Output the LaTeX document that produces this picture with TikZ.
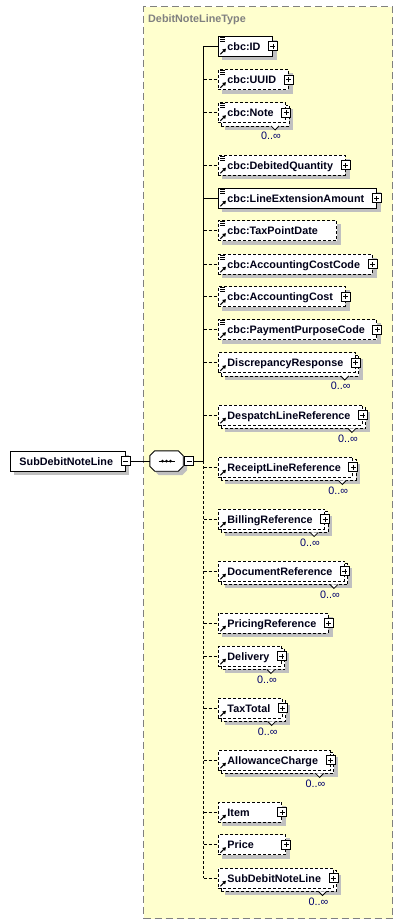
\documentclass[tikz,border=0pt]{standalone}
\usepackage{fontspec}
\setmainfont{Liberation Sans}
\usepackage{tikz}
\usetikzlibrary{arrows.meta, positioning}

\definecolor{typefill}{RGB}{255,255,206}
\definecolor{typeedge}{RGB}{128,128,128}
\definecolor{shadowgray}{RGB}{192,192,192}
\definecolor{nametext}{RGB}{0,0,24}
\definecolor{cardtext}{RGB}{0,0,110}
\newcommand\namefont{\fontsize{10.8}{12}\selectfont\bfseries}

\pgfdeclarelayer{frame}
\pgfdeclarelayer{shade}
\pgfsetlayers{frame,shade,main}

\begin{document}
\begin{tikzpicture}[x=1pt, y=-1pt,
    elembox/.style={fill=white, line width=0.9pt, anchor=west, minimum height=20pt, inner xsep=0pt, inner ysep=0pt, text height=8.8pt, text depth=0.2pt, font=\namefont, text=nametext, execute at begin node={\hspace*{9pt}}, rpad=12pt},
    rpad/.style={execute at end node={\hspace*{#1}}},
    req/.style={elembox, draw=black},
    opt/.style={elembox, draw=black, dash pattern=on 3pt off 2pt},
    refmark/.style={path picture={
        \draw[solid, line width=1.1pt, -{Triangle[length=3.2pt,width=3.8pt]}] ([xshift=2pt,yshift=1.8pt]path picture bounding box.south west) -- ++(5.5pt,5.5pt);}},
    cbcmark/.style={path picture={
        \draw[solid, line width=0.7pt] ([xshift=2pt,yshift=-1.2pt]path picture bounding box.north west) -- ++(5pt,0pt)
            ([xshift=2pt,yshift=-3.2pt]path picture bounding box.north west) -- ++(5pt,0pt)
            ([xshift=2pt,yshift=-5.2pt]path picture bounding box.north west) -- ++(5pt,0pt);
        \draw[solid, line width=1.1pt, -{Triangle[length=3.2pt,width=3.8pt]}] ([xshift=2pt,yshift=1.8pt]path picture bounding box.south west) -- ++(5.5pt,5.5pt);}},
    plusbox/.style={draw=black, fill=white, line width=0.8pt, minimum size=9pt, inner sep=0pt, path picture={
        \draw[line width=0.8pt] ([xshift=-2.5pt]path picture bounding box.center) -- ([xshift=2.5pt]path picture bounding box.center)
            ([yshift=-2.5pt]path picture bounding box.center) -- ([yshift=2.5pt]path picture bounding box.center);}},
    minusbox/.style={draw=black, fill=white, line width=0.8pt, minimum size=9pt, inner sep=0pt, path picture={
        \draw[line width=0.8pt] ([xshift=-2.5pt]path picture bounding box.center) -- ([xshift=2.5pt]path picture bounding box.center);}},
    seqbox/.style={minimum width=33pt, minimum height=20pt, inner sep=0pt},
    seqline/.style={draw=black, fill=white, line width=0.9pt},
    backcopy/.style={draw=black, fill=white, line width=0.9pt, dash pattern=on 3pt off 2pt},
    chev/.style={draw=black, fill=white, line width=0.8pt},
    card/.style={anchor=base east, inner sep=0pt, font=\fontsize{10.8}{12}\selectfont, text=cardtext},
    conn/.style={draw=black, line width=0.9pt},
    optconn/.style={conn, dash pattern=on 3pt off 2pt},
    typebox/.style={draw=typeedge, fill=typefill, line width=1.2pt, dash pattern=on 7pt off 4pt, anchor=north west, inner sep=0pt},
    typename/.style={anchor=base west, inner sep=0pt, font=\fontsize{10.8}{13}\selectfont\bfseries, text=typeedge}
]
\useasboundingbox (0,0) rectangle (403,924);

% complex type frame
\begin{pgfonlayer}{frame}
\fill[white] (0,0) rectangle (403,924);
\node[typebox, minimum width=249pt, minimum height=912pt] (type) at (143,6) {};
\end{pgfonlayer}
\node[typename] (typelabel) at (148,22) {DebitNoteLineType};

% root element and sequence
\node[req] (root) at (10,461) {SubDebitNoteLine};
\node[minusbox] (rootminus) at (root.east) {};
\node[seqbox] (seq) at (166.5,461) {};
\draw[seqline] ([xshift=5pt]seq.north west) -- ([xshift=-5pt]seq.north east) -- ([yshift=-5pt]seq.north east) -- ([yshift=5pt]seq.south east)
    -- ([xshift=-5pt]seq.south east) -- ([xshift=5pt]seq.south west) -- ([yshift=5pt]seq.south west) -- ([yshift=-5pt]seq.north west) -- cycle;
\draw[conn] ([xshift=-8pt]seq.center) -- ([xshift=8pt]seq.center);
\foreach \d in {-4,0,4}
    \fill ([xshift=\d pt]seq.center) circle (1.5pt);
\node[minusbox, right=1pt of seq] (seqminus) {};
\coordinate (trunk) at (203.5,461);
\draw[conn] (rootminus.east) -- (seq.west);
\draw[conn] (seqminus.east) -- (trunk);

% children
\node[req, cbcmark] (id) at (218,46) {cbc:ID};
\node[plusbox] (idplus) at (id.east) {};

\node[opt, cbcmark] (uuid) at (218,79.5) {cbc:UUID};
\node[plusbox] (uuidplus) at (uuid.east) {};

\node[opt, cbcmark] (note) at (218,112.5) {cbc:Note};
\node[plusbox] (noteplus) at (note.east) {};
\draw[chev] ([xshift=-15pt,yshift=-3pt]note.south east) -- ++(4,4) -- ++(4,-4);
\node[card] (notecard) at ([xshift=-5pt,yshift=-17pt]note.south east) {0..∞};

\node[opt, cbcmark] (debqty) at (218,165) {cbc:DebitedQuantity};
\node[plusbox] (debqtyplus) at (debqty.east) {};

\node[req, cbcmark] (lineamt) at (218,198) {cbc:LineExtensionAmount};
\node[plusbox] (lineamtplus) at (lineamt.east) {};

\node[opt, cbcmark, rpad=7pt] (taxdate) at (218,230.5) {cbc:TaxPointDate};

\node[opt, cbcmark] (acccode) at (218,264) {cbc:AccountingCostCode};
\node[plusbox] (acccodeplus) at (acccode.east) {};

\node[opt, cbcmark] (acccost) at (218,296.5) {cbc:AccountingCost};
\node[plusbox] (acccostplus) at (acccost.east) {};

\node[opt, cbcmark] (paycode) at (218,329.5) {cbc:PaymentPurposeCode};
\node[plusbox] (paycodeplus) at (paycode.east) {};

\node[opt, refmark] (discrep) at (218,362.5) {DiscrepancyResponse};
\node[plusbox] (discrepplus) at (discrep.east) {};
\draw[chev] ([xshift=-15pt,yshift=-3pt]discrep.south east) -- ++(4,4) -- ++(4,-4);
\node[card] (discrepcard) at ([xshift=-5pt,yshift=-17pt]discrep.south east) {0..∞};

\node[opt, refmark] (despref) at (218,415) {DespatchLineReference};
\node[plusbox] (desprefplus) at (despref.east) {};
\draw[chev] ([xshift=-15pt,yshift=-3pt]despref.south east) -- ++(4,4) -- ++(4,-4);
\node[card] (desprefcard) at ([xshift=-5pt,yshift=-17pt]despref.south east) {0..∞};

\node[opt, refmark] (rcptref) at (218,467) {ReceiptLineReference};
\node[plusbox] (rcptrefplus) at (rcptref.east) {};
\draw[chev] ([xshift=-15pt,yshift=-3pt]rcptref.south east) -- ++(4,4) -- ++(4,-4);
\node[card] (rcptrefcard) at ([xshift=-5pt,yshift=-17pt]rcptref.south east) {0..∞};

\node[opt, refmark] (billref) at (218,519) {BillingReference};
\node[plusbox] (billrefplus) at (billref.east) {};
\draw[chev] ([xshift=-15pt,yshift=-3pt]billref.south east) -- ++(4,4) -- ++(4,-4);
\node[card] (billrefcard) at ([xshift=-5pt,yshift=-17pt]billref.south east) {0..∞};

\node[opt, refmark] (docref) at (218,571) {DocumentReference};
\node[plusbox] (docrefplus) at (docref.east) {};
\draw[chev] ([xshift=-15pt,yshift=-3pt]docref.south east) -- ++(4,4) -- ++(4,-4);
\node[card] (docrefcard) at ([xshift=-5pt,yshift=-17pt]docref.south east) {0..∞};

\node[opt, refmark] (priceref) at (218,623) {PricingReference};
\node[plusbox] (pricerefplus) at (priceref.east) {};

\node[opt, refmark] (delivery) at (218,656) {Delivery};
\node[plusbox] (deliveryplus) at (delivery.east) {};
\draw[chev] ([xshift=-15pt,yshift=-3pt]delivery.south east) -- ++(4,4) -- ++(4,-4);
\node[card] (deliverycard) at ([xshift=-5pt,yshift=-17pt]delivery.south east) {0..∞};

\node[opt, refmark] (taxtotal) at (218,708) {TaxTotal};
\node[plusbox] (taxtotalplus) at (taxtotal.east) {};
\draw[chev] ([xshift=-15pt,yshift=-3pt]taxtotal.south east) -- ++(4,4) -- ++(4,-4);
\node[card] (taxtotalcard) at ([xshift=-5pt,yshift=-17pt]taxtotal.south east) {0..∞};

\node[opt, refmark] (allowance) at (218,760) {AllowanceCharge};
\node[plusbox] (allowanceplus) at (allowance.east) {};
\draw[chev] ([xshift=-15pt,yshift=-3pt]allowance.south east) -- ++(4,4) -- ++(4,-4);
\node[card] (allowancecard) at ([xshift=-5pt,yshift=-17pt]allowance.south east) {0..∞};

\node[opt, refmark, rpad=20pt] (item) at (218,812) {Item};
\node[plusbox] (itemplus) at (item.east) {};

\node[opt, refmark, rpad=20pt] (price) at (218,844.5) {Price};
\node[plusbox] (priceplus) at (price.east) {};

\node[opt, refmark] (subline) at (218,878) {SubDebitNoteLine};
\node[plusbox] (sublineplus) at (subline.east) {};
\draw[chev] ([xshift=-15pt,yshift=-3pt]subline.south east) -- ++(4,4) -- ++(4,-4);
\node[card] (sublinecard) at ([xshift=-5pt,yshift=-17pt]subline.south east) {0..∞};

% shadows and stacked copies
\begin{pgfonlayer}{shade}
\foreach \n in {root, id, uuid, debqty, lineamt, taxdate, acccode, acccost, paycode, priceref, item, price}
    \fill[shadowgray] ([shift={(4pt,-4pt)}]\n.south west) rectangle ([shift={(4pt,-4pt)}]\n.north east);
\foreach \n in {note, discrep, despref, rcptref, billref, docref, delivery, taxtotal, allowance, subline} {
    \fill[shadowgray] ([shift={(7pt,-7pt)}]\n.south west) rectangle ([shift={(7pt,-7pt)}]\n.north east);
    \draw[backcopy] ([shift={(3pt,-3pt)}]\n.south west) rectangle ([shift={(3pt,-3pt)}]\n.north east);
}
\fill[shadowgray] ([shift={(9pt,-4pt)}]seq.north west) -- ([shift={(-1pt,-4pt)}]seq.north east) -- ([shift={(4pt,-9pt)}]seq.north east) -- ([shift={(4pt,1pt)}]seq.south east)
    -- ([shift={(-1pt,-4pt)}]seq.south east) -- ([shift={(9pt,-4pt)}]seq.south west) -- ([shift={(4pt,1pt)}]seq.south west) -- ([shift={(4pt,-9pt)}]seq.north west) -- cycle;
\end{pgfonlayer}

% connectors
\draw[conn] (id.west -| trunk) -- (trunk);
\draw[optconn] (trunk) -- (subline.west -| trunk);
\draw[conn] (id.west -| trunk) -- (id.west);
\draw[conn] (lineamt.west -| trunk) -- (lineamt.west);
\foreach \n in {uuid, note, debqty, taxdate, acccode, acccost, paycode, discrep, despref, rcptref, billref, docref, priceref, delivery, taxtotal, allowance, item, price, subline}
    \draw[optconn] (\n.west -| trunk) -- (\n.west);

\end{tikzpicture}
\end{document}
